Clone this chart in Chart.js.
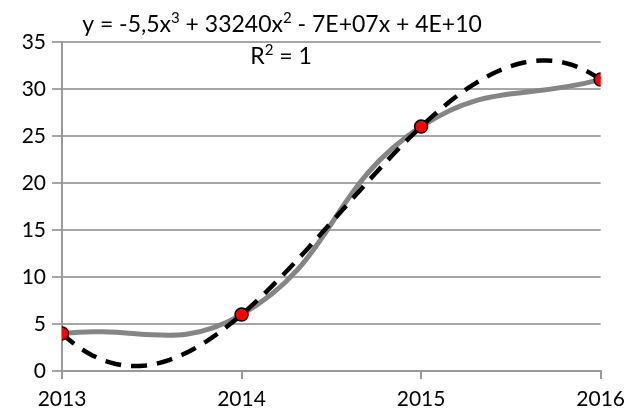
<!DOCTYPE html>
<html>
<head>
<meta charset="utf-8">
<script src="https://cdn.jsdelivr.net/npm/chart.js@4/dist/chart.umd.min.js"></script>
<style>
  html, body { margin: 0; padding: 0; background: #fff; }
  #wrap { position: relative; width: 633px; height: 416px; }
</style>
</head>
<body>
<div id="wrap"><canvas id="c" width="633" height="416"></canvas></div>
<script>
// Observed values per year
const years = [2013, 2014, 2015, 2016];
const values = [4, 6, 26, 31];
const yTicks = [0, 5, 10, 15, 20, 25, 30, 35];
const xTicks = [2013, 2014, 2015, 2016];
// Trendline label (as printed on the chart)
const equationParts = [
  ['y = -5,5x', false], ['3', true], [' + 33240x', false], ['2', true],
  [' - 7E+07x + 4E+10', false]
];
const r2Parts = [['R', false], ['2', true], [' = 1', false]];

// Least-squares cubic trendline of the observed points (x shifted to first year)
function polyFit(xs, ys, deg) {
  const n = deg + 1;
  const A = Array.from({length: n}, () => new Array(n + 1).fill(0));
  for (let k = 0; k < xs.length; k++) {
    const x = xs[k] - xs[0];
    for (let i = 0; i < n; i++) {
      for (let j = 0; j < n; j++) A[i][j] += Math.pow(x, i + j);
      A[i][n] += ys[k] * Math.pow(x, i);
    }
  }
  for (let i = 0; i < n; i++) {
    let p = i;
    for (let r = i + 1; r < n; r++) if (Math.abs(A[r][i]) > Math.abs(A[p][i])) p = r;
    [A[i], A[p]] = [A[p], A[i]];
    for (let r = 0; r < n; r++) {
      if (r === i) continue;
      const f = A[r][i] / A[i][i];
      for (let c = i; c <= n; c++) A[r][c] -= f * A[i][c];
    }
  }
  return A.map((row, i) => row[n] / row[i]);
}
const coef = polyFit(years, values, 3);
const trend = [];
for (let i = 0; i <= 90; i++) {
  const x = years[0] + (years[years.length - 1] - years[0]) * i / 90;
  const t = x - years[0];
  trend.push({x, y: coef.reduce((s, c, k) => s + c * Math.pow(t, k), 0)});
}

const points = years.map((x, i) => ({x, y: values[i]}));
const FONT = 'Lato, "Open Sans", sans-serif';

function drawParts(ctx, parts, cx, cy, size) {
  const supSize = Math.round(size * 0.66);
  let total = 0;
  const widths = parts.map(([s, sup]) => {
    ctx.font = (sup ? supSize : size) + 'px ' + FONT;
    const w = ctx.measureText(s).width;
    total += w;
    return w;
  });
  let x = cx - total / 2;
  parts.forEach(([s, sup], i) => {
    ctx.font = (sup ? supSize : size) + 'px ' + FONT;
    ctx.fillText(s, x, sup ? cy - size * 0.38 : cy);
    x += widths[i];
  });
}

const labelPlugin = {
  id: 'trendLabel',
  afterDatasetsDraw(chart) {
    const ctx = chart.ctx;
    ctx.save();
    ctx.fillStyle = '#000';
    ctx.textBaseline = 'alphabetic';
    ctx.textAlign = 'left';
    drawParts(ctx, equationParts, 282, 32, 23);
    drawParts(ctx, r2Parts, 281, 64, 23);
    ctx.restore();
  }
};

new Chart(document.getElementById('c'), {
  type: 'scatter',
  data: {
    datasets: [
      {
        data: points, showLine: true, order: 1,
        pointRadius: 6.5, pointBackgroundColor: '#ff0000',
        pointBorderColor: '#000', pointBorderWidth: 1.5,
        borderWidth: 0, borderColor: 'rgba(0,0,0,0)'
      },
      {
        data: trend, showLine: true, order: 2, pointRadius: 0,
        borderColor: '#000', borderWidth: 4.5, borderDash: [16, 10],
        borderCapStyle: 'butt', tension: 0
      },
      {
        data: points, showLine: true, order: 3, pointRadius: 0,
        borderColor: '#858585', borderWidth: 5, tension: 0.45
      }
    ]
  },
  options: {
    responsive: false, animation: false, devicePixelRatio: 1,
    layout: { padding: { top: 42, right: 28, left: 0, bottom: 0 } },
    plugins: { legend: { display: false }, tooltip: { enabled: false } },
    scales: {
      x: {
        type: 'linear', min: years[0], max: years[years.length - 1],
        afterBuildTicks: s => { s.ticks = xTicks.map(v => ({value: v})); },
        afterFit: s => { s.height = 45; },
        ticks: { color: '#000', font: { family: FONT, size: 21 }, padding: 8,
                 callback: v => String(v), maxRotation: 0 },
        grid: { drawOnChartArea: false, drawTicks: true, tickLength: 8,
                color: '#999', lineWidth: 2 },
        border: { color: '#999', width: 2 }
      },
      y: {
        min: 0, max: 35,
        afterBuildTicks: s => { s.ticks = yTicks.map(v => ({value: v})); },
        afterFit: s => { s.width = 62; },
        ticks: { color: '#000', font: { family: FONT, size: 21 }, padding: 6 },
        grid: { color: '#a6a6a6', lineWidth: 2, tickLength: 10 },
        border: { color: '#999', width: 2 }
      }
    }
  },
  plugins: [labelPlugin]
});
</script>
</body>
</html>
